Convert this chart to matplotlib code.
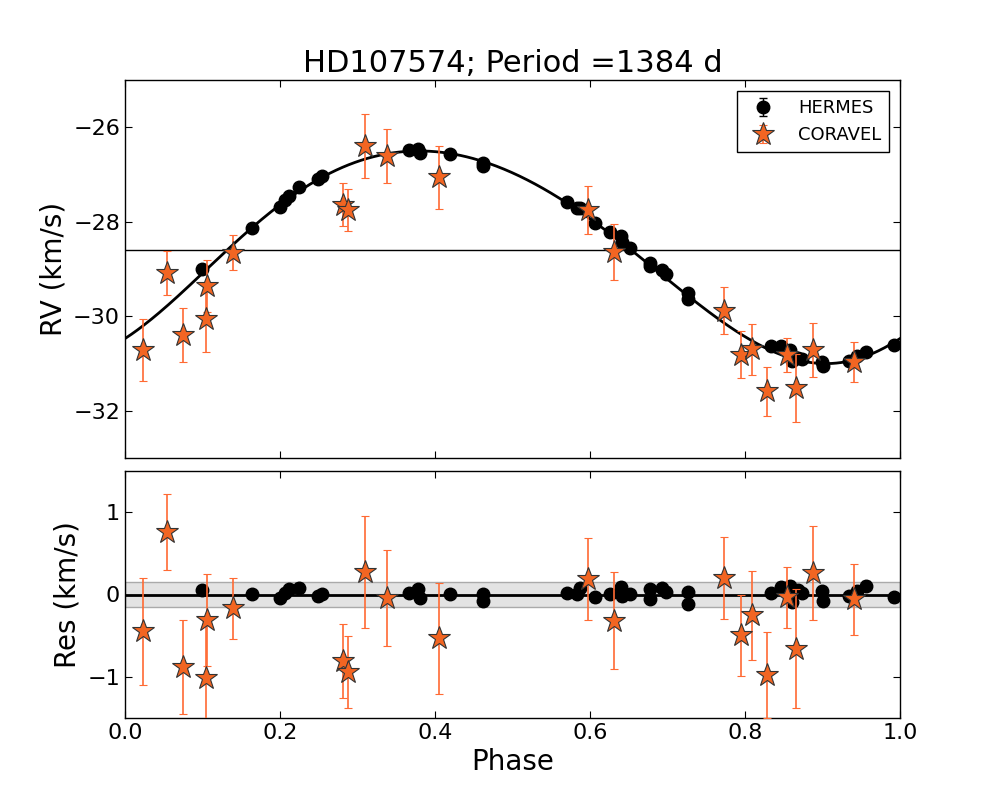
import numpy as np
import matplotlib
matplotlib.use("Agg")
import matplotlib.pyplot as plt

# ---------------- data ----------------
title = "HD107574; Period =1384 d"

# HERMES: phase, RV (km/s), residual (km/s)
hermes_phase = [0.099, 0.1634, 0.200, 0.207, 0.212, 0.2245, 0.2495, 0.2546,
                0.3669, 0.3785, 0.380, 0.419, 0.4624, 0.4624,
                0.570, 0.5828, 0.587, 0.606, 0.626, 0.6396, 0.641, 0.651,
                0.6774, 0.678, 0.6925, 0.6977, 0.727, 0.727,
                0.834, 0.846, 0.858, 0.860, 0.869, 0.873, 0.899, 0.901,
                0.9346, 0.944, 0.956, 0.9926]
hermes_rv = [-29.01, -28.13, -27.68, -27.55, -27.45, -27.27, -27.10, -27.03,
             -26.49, -26.45, -26.55, -26.57, -26.75, -26.82,
             -27.59, -27.70, -27.71, -28.03, -28.22, -28.31, -28.42, -28.55,
             -28.88, -28.94, -29.03, -29.11, -29.50, -29.64,
             -30.63, -30.63, -30.72, -30.94, -30.88, -30.90, -30.97, -31.05,
             -30.95, -30.84, -30.76, -30.61]
hermes_res = [0.056, 0.004, -0.044, 0.016, 0.068, 0.084, -0.024, 0.004,
              0.016, 0.068, -0.044, 0.004, 0.004, -0.084,
              0.016, 0.004, 0.084, -0.036, 0.004, 0.096, -0.024, 0.004,
              0.068, -0.052, 0.076, 0.036, 0.028, -0.116,
              0.016, 0.096, 0.108, -0.092, 0.056, 0.016, 0.044, -0.084,
              -0.024, 0.044, 0.108, -0.036]
hermes_err = [0.05] * len(hermes_phase)

# CORAVEL: phase, RV, error, residual
coravel_phase = [0.0228, 0.0538, 0.0752, 0.1062, 0.1045, 0.1398, 0.2808, 0.2882,
                 0.3097, 0.3377, 0.4055, 0.597, 0.6314, 0.7733, 0.7948, 0.8094,
                 0.828, 0.8546, 0.8658, 0.888, 0.9406]
coravel_rv = [-30.71, -29.08, -30.40, -29.36, -30.05, -28.66, -27.64, -27.75,
              -26.40, -26.61, -27.06, -27.75, -28.64, -29.88, -30.81, -30.70,
              -31.59, -30.82, -31.52, -30.71, -30.97]
coravel_err = [0.65, 0.46, 0.57, 0.56, 0.70, 0.37, 0.45, 0.44,
               0.68, 0.58, 0.67, 0.50, 0.59, 0.50, 0.49, 0.54,
               0.52, 0.37, 0.72, 0.57, 0.43]
coravel_res = [-0.446, 0.759, -0.88, -0.305, -1.016, -0.165, -0.807, -0.94,
               0.269, -0.044, -0.534, 0.185, -0.317, 0.197, -0.494, -0.253,
               -0.976, -0.032, -0.659, 0.257, -0.056]

# Orbital model parameters (phase units)
gamma = -28.6
K = 2.25
ecc = 0.078
omega_deg = 210.0
t_peri = 0.976
band = 0.15

# ---------------- model ----------------
def kepler_rv(phase):
    M = 2 * np.pi * (np.asarray(phase) - t_peri)
    E = M.copy()
    for _ in range(50):
        E = M + ecc * np.sin(E)
    nu = 2 * np.arctan2(np.sqrt(1 + ecc) * np.sin(E / 2), np.sqrt(1 - ecc) * np.cos(E / 2))
    w = np.radians(omega_deg)
    return gamma + K * (np.cos(nu + w) + ecc * np.cos(w))

ph = np.linspace(0, 1, 500)
model = kepler_rv(ph)

# ---------------- style ----------------
plt.rcParams.update({
    "font.family": ["DejaVu Sans"],
    "xtick.direction": "in", "ytick.direction": "in",
    "xtick.top": True, "ytick.right": True,
    "xtick.major.size": 5, "ytick.major.size": 5,
    "xtick.minor.visible": False, "ytick.minor.visible": False,
    "xtick.labelsize": 16, "ytick.labelsize": 16,
    "axes.linewidth": 1.0,
})

orange = "#F26522"
err_orange = "#FF6A33"

fig = plt.figure(figsize=(10, 8), dpi=100, facecolor="white")
ax1 = fig.add_axes([0.125, 0.4275, 0.775, 0.4725])
ax2 = fig.add_axes([0.125, 0.1025, 0.775, 0.30875])

# top panel
ax1.plot(ph, model, color="black", lw=2, zorder=2)
ax1.axhline(gamma, color="black", lw=1, zorder=1)
ax1.errorbar(hermes_phase, hermes_rv, yerr=hermes_err, fmt="o", color="black",
             ms=9, mec="black", ecolor="black", capsize=3, elinewidth=1,
             label="HERMES", zorder=3)
ax1.errorbar(coravel_phase, coravel_rv, yerr=coravel_err, fmt="*", color=orange,
             ms=17, mec="#333333", mew=0.8, ecolor=err_orange, capsize=3,
             elinewidth=1.2, label="CORAVEL", zorder=4)
ax1.set_xlim(0, 1)
ax1.set_ylim(-33, -25)
ax1.set_yticks([-32, -30, -28, -26])
ax1.set_yticklabels(["\u221232", "\u221230", "\u221228", "\u221226"])
ax1.set_xticks([0, 0.2, 0.4, 0.6, 0.8, 1.0])
ax1.tick_params(labelbottom=False)
ax1.set_ylabel("RV (km/s)", fontsize=20)
ax1.set_title(title, fontsize=22)
leg = ax1.legend(loc="upper right", numpoints=1, fontsize=13, fancybox=False,
                 edgecolor="black", framealpha=1, borderpad=0.45,
                 handletextpad=0.9, borderaxespad=0.6)
leg.get_frame().set_linewidth(1.0)

# bottom panel
ax2.axhspan(-band, band, facecolor="#e3e3e3", edgecolor="#aaaaaa", lw=1, zorder=0)
ax2.axhline(0, color="black", lw=2, zorder=1)
ax2.errorbar(hermes_phase, hermes_res, yerr=hermes_err, fmt="o", color="black",
             ms=9, mec="black", ecolor="black", capsize=3, elinewidth=1, zorder=3)
ax2.errorbar(coravel_phase, coravel_res, yerr=coravel_err, fmt="*", color=orange,
             ms=17, mec="#333333", mew=0.8, ecolor=err_orange, capsize=3,
             elinewidth=1.2, zorder=4)
ax2.set_xlim(0, 1)
ax2.set_ylim(-1.5, 1.5)
ax2.set_yticks([-1, 0, 1])
ax2.set_yticklabels(["\u22121", "0", "1"])
ax2.set_xticks([0, 0.2, 0.4, 0.6, 0.8, 1.0])
ax2.set_xticklabels(["0.0", "0.2", "0.4", "0.6", "0.8", "1.0"])
ax2.set_xlabel("Phase", fontsize=20)
ax2.set_ylabel("Res (km/s)", fontsize=20)

fig.savefig("out.png", dpi=100, facecolor="white")
